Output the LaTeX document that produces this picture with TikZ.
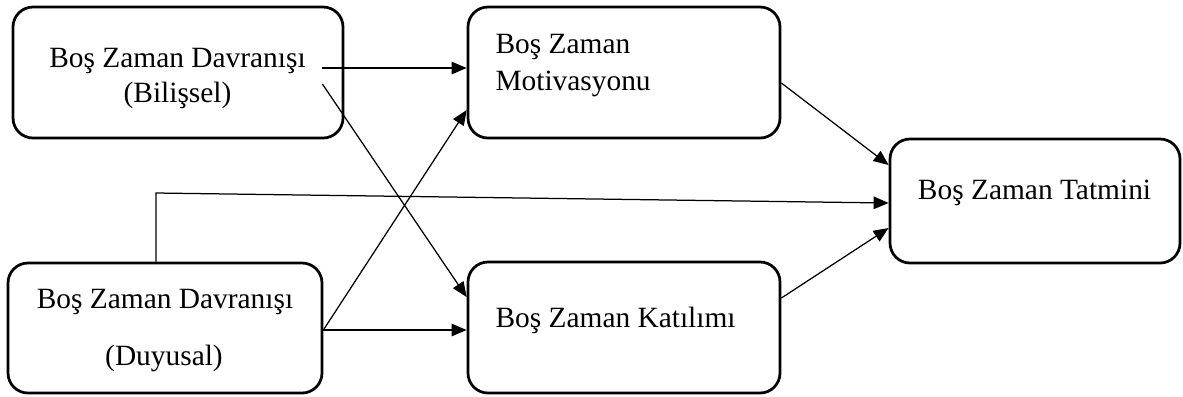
\documentclass[tikz,border=0pt]{standalone}
\usepackage{fontspec}
\setmainfont{Liberation Serif}
\usetikzlibrary{arrows.meta}
\tikzset{
  box/.style={draw, line width=1.1pt, rounded corners=8pt},
  arr/.style={-{Triangle[length=6pt,width=5pt]}, line width=0.5pt},
  lbl/.style={font=\fontsize{11.76pt}{14pt}\selectfont, inner sep=0pt},
}

\begin{document}
\begin{tikzpicture}[x=0.4pt, y=-0.4pt]
  \useasboundingbox (0,0) rectangle (1183,396);
  % boxes
  \node[box, minimum width=132pt, minimum height=52.4pt] (bil) at (178,72.5) {};
  \node[box, minimum width=125.6pt, minimum height=52pt] (duy) at (165,328) {};
  \node[box, minimum width=124.8pt, minimum height=52.4pt] (mot) at (624,72.5) {};
  \node[box, minimum width=124.8pt, minimum height=52.4pt] (kat) at (624,327.5) {};
  \node[box, minimum width=116pt, minimum height=49.6pt] (tat) at (1035,201) {};
  % texts
  \node[lbl, anchor=base] (bilA) at (177.5,67) {Boş Zaman Davranışı};
  \node[lbl, anchor=base] (bilB) at (177.5,102) {(Bilişsel)};
  \node[lbl, anchor=base] (duyA) at (165,308) {Boş Zaman Davranışı};
  \node[lbl, anchor=base] (duyB) at (164,365) {(Duyusal)};
  \node[lbl, anchor=base west] (motA) at (495,53) {Boş Zaman};
  \node[lbl, anchor=base west] (motB) at (495,90) {Motivasyonu};
  \node[lbl, anchor=base west] (katA) at (495,327) {Boş Zaman Katılımı};
  \node[lbl, anchor=base] (tatA) at (1034.5,199) {Boş Zaman Tatmini};
  % arrows
  \coordinate (knee) at (156,193);
  \draw[arr] ([xshift=-8.8pt,yshift=1.8pt]bil.east) -- ([yshift=1.8pt]mot.west);
  \draw[arr] ([xshift=-8.8pt,yshift=-4.6pt]bil.east) -- ([yshift=12.2pt]kat.west);
  \draw[arr] ([yshift=-0.8pt]duy.east) -- ([yshift=-15pt]mot.west);
  \draw[arr] ([yshift=-0.8pt]duy.east) -- ([yshift=-0.8pt]duy.east -| kat.west);
  \draw[arr] ([xshift=-3.6pt]duy.north) -- (knee) -- ([yshift=-0.8pt]tat.west);
  \draw[arr] ([yshift=-4.2pt]mot.east) -- ([yshift=14.4pt]tat.west);
  \draw[arr] ([yshift=11.8pt]kat.east) -- ([yshift=-10.8pt]tat.west);
\end{tikzpicture}
\end{document}
